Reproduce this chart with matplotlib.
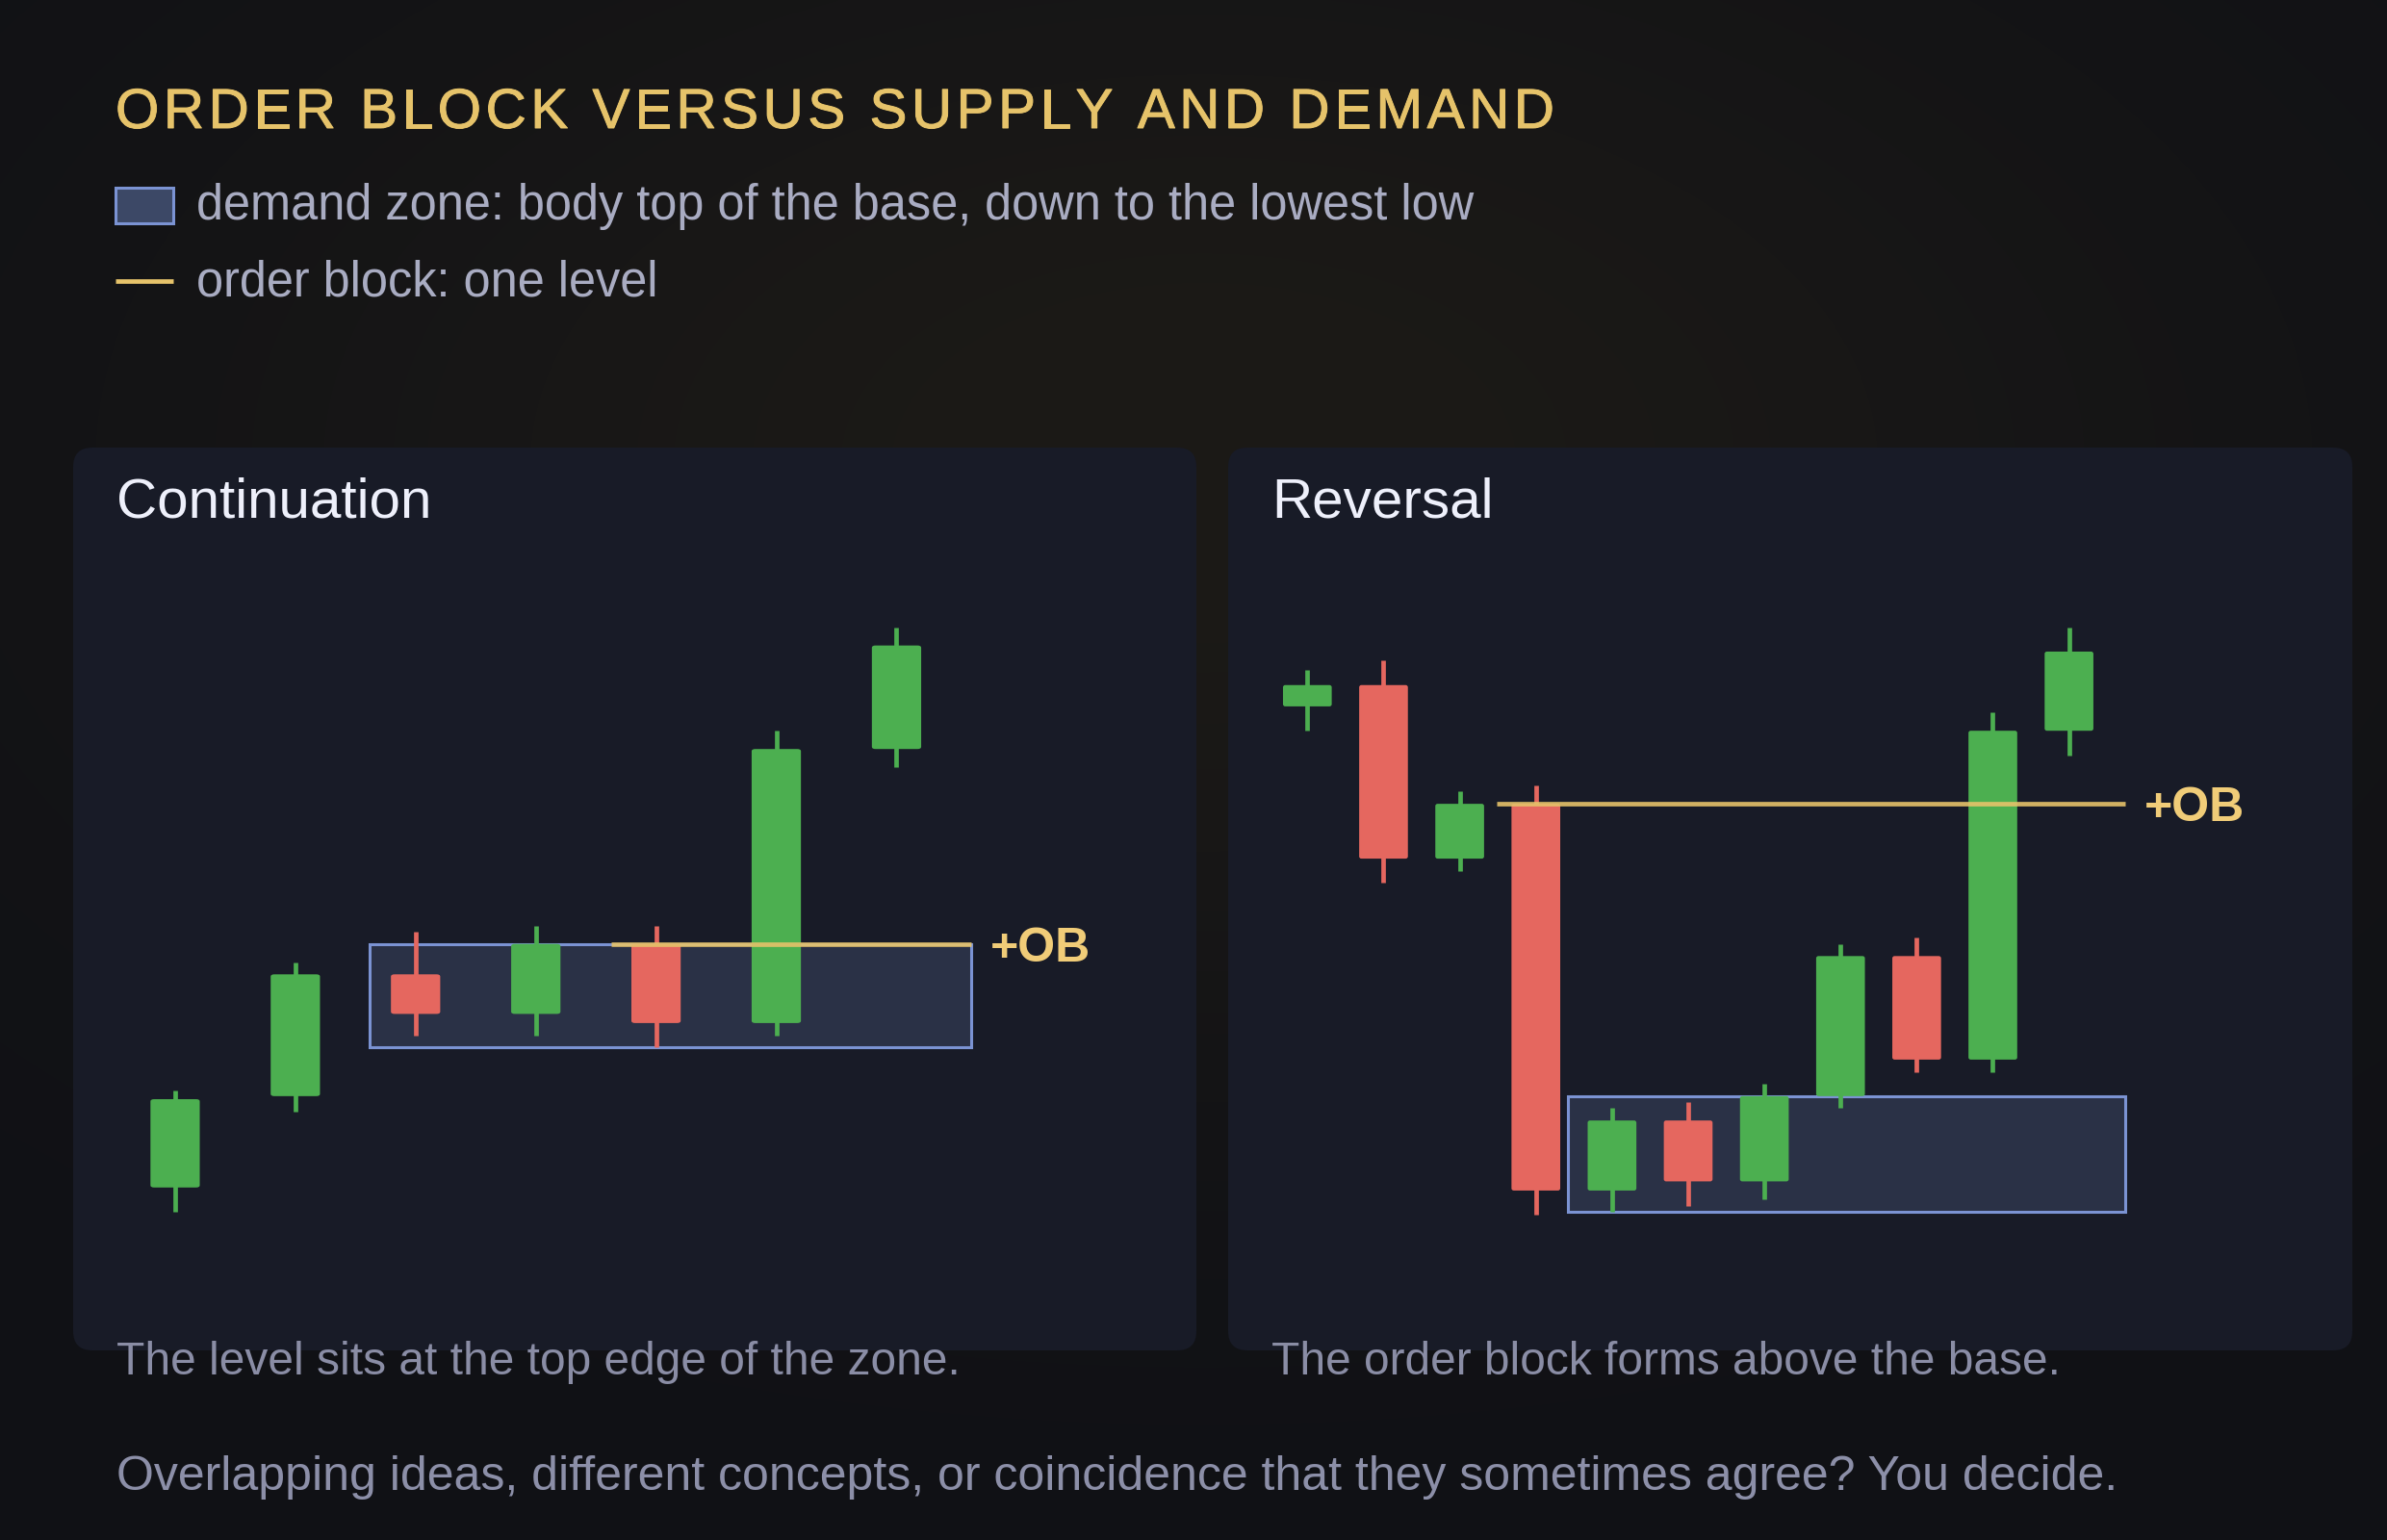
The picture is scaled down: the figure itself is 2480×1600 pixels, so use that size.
import numpy as np
import matplotlib
matplotlib.use("Agg")
import matplotlib.pyplot as plt
import matplotlib.patheffects as pe
from matplotlib.patches import Rectangle, FancyBboxPatch
from matplotlib.font_manager import FontProperties, findfont, get_font

plt.rcParams['font.family'] = ['Liberation Sans', 'DejaVu Sans']

# ---- data (price units, arbitrary) ----
cont_open = [25, 40, 60, 53.5, 65, 52, 97]
cont_close = [39.5, 60, 53.5, 65, 52, 97, 114]
cont_high = [41, 62, 67, 68, 68, 100, 117]
cont_low = [21, 37.5, 50, 50, 48, 50, 94]
cont_zone_top, cont_zone_bottom = 65, 48
cont_zone_x = (1.62, 6.62)
cont_ob_level = 65
cont_ob_x = (3.63, 6.62)

rev_open = [104, 107.5, 79, 88, 24.5, 36, 26, 40, 63, 46, 100]
rev_close = [107.5, 79, 88, 24.5, 36, 26, 40, 63, 46, 100, 113]
rev_high = [110, 111.5, 90, 91, 38, 39, 42, 65, 66, 103, 117]
rev_low = [100, 75, 77, 20.5, 21, 22, 23, 38, 44, 44, 96]
rev_zone_top, rev_zone_bottom = 40, 21
rev_zone_x = (3.42, 10.74)
rev_ob_level = 88
rev_ob_x = (2.48, 10.74)

TITLE = "ORDER BLOCK VERSUS SUPPLY AND DEMAND"
LEGEND_ZONE = "demand zone: body top of the base, down to the lowest low"
LEGEND_OB = "order block: one level"
FOOTER = "Overlapping ideas, different concepts, or coincidence that they sometimes agree? You decide."

GREEN = '#4caf50'
RED = '#e5675f'
GOLD = '#e6c36a'
ZONE_FILL = '#2a3146'
ZONE_EDGE = '#7b93d3'
PANEL = '#181b27'

W, H = 2480, 1600
fig = plt.figure(figsize=(W / 100, H / 100), dpi=100)

# background with a faint warm glow behind the panels
bg = fig.add_axes([0, 0, 1, 1])
bg.set_xlim(0, W)
bg.set_ylim(H, 0)
bg.axis('off')
yy, xx = np.mgrid[0:H:2, 0:W:2]
d = np.sqrt(((xx - 1250) / 1300) ** 2 + ((yy - 480) / 750) ** 2)
glow = np.exp(-d ** 2 * 1.4)[..., None]
base = np.array([0x10, 0x11, 0x15]) / 255
warm = np.array([0x1c, 0x1a, 0x17]) / 255
img = base * (1 - glow) + warm * glow
bg.imshow(img, extent=(0, W, H, 0), aspect='auto', interpolation='bilinear', zorder=0)


# title with letter spacing
def spaced_text(x, y, s, target_w, size, color):
    prop = FontProperties(family='Liberation Sans', size=size)
    font = get_font(findfont(prop))
    font.set_size(size, 100)
    adv = [font.load_char(ord(c)).linearHoriAdvance / 65536 for c in s]
    gap = (target_w - sum(adv)) / (len(s) - 1)
    for c, a in zip(s, adv):
        bg.text(x, y, c, color=color, va='baseline', ha='left', fontproperties=prop,
                path_effects=[pe.withStroke(linewidth=0.7, foreground=color)])
        x += a + gap

spaced_text(120, 133, TITLE, 1495, 42, GOLD)

# legend
bg.add_patch(Rectangle((120, 195), 60, 37, facecolor='#3c4866', edgecolor=ZONE_EDGE, lw=2.2, zorder=3))
bg.plot([120, 180], [292, 292], color=GOLD, lw=3.4, solid_capstyle='butt', zorder=3)
bg.text(204, 228, LEGEND_ZONE, fontsize=36.4, color='#a9acc2', va='baseline')
bg.text(204, 307, LEGEND_OB, fontsize=36.4, color='#a9acc2', va='baseline')

# panels
panels = [(76, 1243), (1276, 2444)]
for x0, x1 in panels:
    bg.add_patch(FancyBboxPatch((x0, 465), x1 - x0, 1403 - 465,
                                boxstyle="round,pad=0,rounding_size=20",
                                facecolor=PANEL, edgecolor='none', zorder=1))

bg.text(121, 538, "Continuation", fontsize=42, color='#eef0fb', va='baseline', zorder=4)
bg.text(1321, 538, "Reversal", fontsize=42, color='#eef0fb', va='baseline', zorder=4)
bg.text(121, 1428, "The level sits at the top edge of the zone.", fontsize=34.5,
        color='#8a8da5', va='baseline', zorder=4)
bg.text(1321, 1428, "The order block forms above the base.", fontsize=34.5,
        color='#8a8da5', va='baseline', zorder=4)
bg.text(121, 1548, FOOTER, fontsize=36, color='#8c8fa8', va='baseline', zorder=4)


def candle_panel(rect, xlim, o, c, h, l, width, zone, zone_x, ob, ob_x):
    ax = fig.add_axes(rect, zorder=2)
    ax.set_facecolor('none')
    ax.set_xlim(*xlim)
    ax.set_ylim(-1.75, 146.5)
    ax.axis('off')
    ztop, zbot = zone
    ax.add_patch(Rectangle((zone_x[0], zbot), zone_x[1] - zone_x[0], ztop - zbot,
                           facecolor=ZONE_FILL, edgecolor=ZONE_EDGE, lw=2.2, zorder=1))
    for i in range(len(o)):
        col = GREEN if c[i] >= o[i] else RED
        ax.vlines(i, l[i], h[i], color=col, lw=3.4, zorder=2)
        lo, hi = min(o[i], c[i]), max(o[i], c[i])
        ax.add_patch(FancyBboxPatch((i - width / 2, lo), width, hi - lo,
                                    boxstyle="round,pad=0,rounding_size=0.03",
                                    mutation_aspect=12,
                                    facecolor=col, edgecolor='none', zorder=3))
    ax.plot(ob_x, [ob, ob], color=GOLD, lw=3.4, alpha=0.9, solid_capstyle='butt', zorder=4)
    ax.text(ob_x[1] + (xlim[1] - xlim[0]) * 0.017, ob - 0.8, "+OB", fontsize=36, fontweight='bold',
            color='#f0cc78', va='center', ha='left', zorder=5)
    return ax


candle_panel([76 / W, 1 - 1403 / H, (1243 - 76) / W, (1403 - 465) / H],
             (-0.848, 8.494), cont_open, cont_close, cont_high, cont_low, 0.41,
             (cont_zone_top, cont_zone_bottom), cont_zone_x, cont_ob_level, cont_ob_x)
candle_panel([1276 / W, 1 - 1403 / H, (2444 - 1276) / W, (1403 - 465) / H],
             (-1.04, 13.72), rev_open, rev_close, rev_high, rev_low, 0.64,
             (rev_zone_top, rev_zone_bottom), rev_zone_x, rev_ob_level, rev_ob_x)

fig.savefig("out.png", dpi=100, facecolor='#121316')
